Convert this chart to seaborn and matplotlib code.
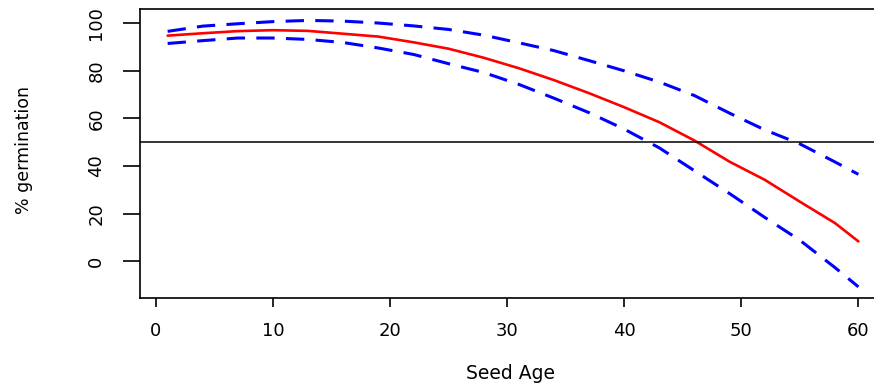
import matplotlib
matplotlib.use("Agg")
import matplotlib.pyplot as plt
import seaborn as sns
import pandas as pd

# ---- data ----
seed_age = [1, 4, 7, 10, 13, 16, 19, 22, 25, 28, 31, 34, 37, 40, 43, 46, 49, 52, 55, 58, 60]
fit = [94.8, 95.8, 96.7, 97.1, 96.8, 95.6, 94.4, 92.0, 89.3, 85.5, 81.1, 76.1, 70.6, 64.7,
       58.4, 50.7, 41.8, 34.2, 25.0, 16.0, 8.3]
upper = [96.6, 98.8, 99.8, 100.7, 101.2, 100.9, 100.1, 98.9, 97.4, 95.0, 91.8, 88.5, 84.3,
         80.0, 75.3, 69.6, 62.2, 55.2, 49.3, 41.7, 36.5]
lower = [91.5, 92.7, 93.8, 93.8, 93.2, 91.9, 89.6, 86.9, 83.0, 79.3, 74.3, 68.5, 62.4, 55.5,
         47.6, 38.0, 28.4, 18.4, 8.8, -2.7, -10.8]
x_ticks = [0, 10, 20, 30, 40, 50, 60]
y_ticks = [0, 20, 40, 60, 80, 100]
threshold = 50

df = pd.DataFrame({"age": seed_age, "fit": fit, "upper": upper, "lower": lower})

sns.set_style("ticks")
plt.rcParams["font.family"] = ["DejaVu Sans"]

fig = plt.figure(figsize=(8.74, 3.85), dpi=100)
W, H = 874, 385
left_px, right_px, top_px, bottom_px = 140, 886, 9, 298
ax = fig.add_axes([left_px / W, (H - bottom_px) / H,
                   (right_px - left_px) / W, (bottom_px - top_px) / H])

sns.lineplot(data=df, x="age", y="fit", ax=ax, color="#FF0000", linewidth=1.9)
sns.lineplot(data=df, x="age", y="upper", ax=ax, color="#0000FF", linewidth=2.2,
             dashes=False, linestyle=(0, (6, 3.7)))
sns.lineplot(data=df, x="age", y="lower", ax=ax, color="#0000FF", linewidth=2.2,
             dashes=False, linestyle=(0, (6, 3.7)))
ax.axhline(threshold, color="black", linewidth=1.1)

ax.set_xlim(-1.36, 62.36)
ax.set_ylim(-15.5, 106.0)
ax.set_xticks(x_ticks)
ax.set_yticks(y_ticks)
ax.set_xticklabels([str(v) for v in x_ticks])
ax.set_yticklabels([str(v) for v in y_ticks])

for s in ax.spines.values():
    s.set_visible(True)
    s.set_color("black")
    s.set_linewidth(1.2)

ax.tick_params(axis="x", length=6.5, width=1.2, color="black", pad=10.5,
               labelsize=13, labelcolor="black")
ax.tick_params(axis="y", length=12, width=1.2, color="black", pad=13,
               labelsize=13, labelcolor="black")
plt.setp(ax.get_yticklabels(), rotation=90, va="center", ha="right")

ax.set_xlabel("Seed Age", fontsize=13.5, color="black")
ax.set_ylabel("% germination", fontsize=12.5, color="black")
ax.xaxis.set_label_coords(0.497, -0.228)
ax.yaxis.set_label_coords(-0.143, 0.512)

fig.savefig("out.png", dpi=100)
